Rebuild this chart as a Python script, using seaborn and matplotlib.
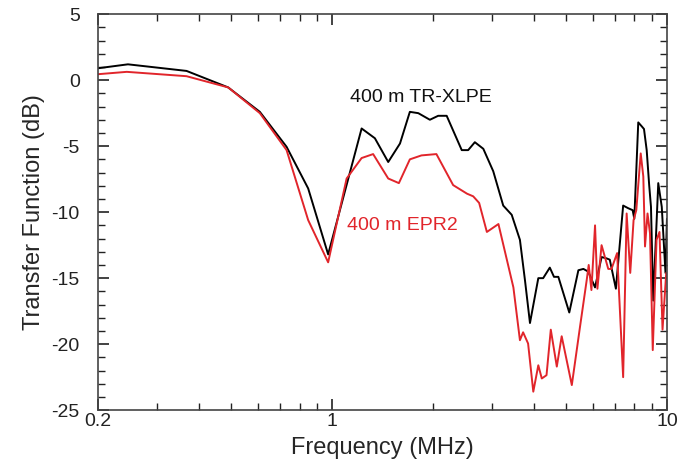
import numpy as np
import pandas as pd
import matplotlib
matplotlib.use('Agg')
import matplotlib.pyplot as plt
from matplotlib.ticker import FixedLocator, NullFormatter, MultipleLocator
import seaborn as sns

# Frequency (MHz) and transfer function (dB)
xlpe_freq = [0.2, 0.246, 0.368, 0.49, 0.609, 0.732, 0.849, 0.974, 1.226, 1.343, 1.472,
             1.596, 1.708, 1.81, 1.96, 2.075, 2.2, 2.44, 2.55, 2.67, 2.83, 3.03, 3.245,
             3.44, 3.64, 3.77, 3.9, 4.13, 4.27, 4.47, 4.6, 4.74, 5.11, 5.44, 5.63, 5.82,
             6.1, 6.38, 6.6, 6.75, 7.04, 7.4, 7.66, 7.9, 7.99, 8.21, 8.41, 8.54, 8.7,
             8.85, 8.96, 9.1, 9.42, 9.65, 9.9, 10.0]
xlpe_db = [0.9, 1.2, 0.7, -0.55, -2.4, -5.05, -8.2, -13.2, -3.66, -4.4, -6.2,
           -4.8, -2.4, -2.5, -3.0, -2.7, -2.7, -5.3, -5.3, -4.7, -5.2, -6.9, -9.5,
           -10.2, -12.1, -15.2, -18.4, -15.0, -15.0, -14.2, -14.9, -14.9, -17.6, -14.4, -14.3, -14.5,
           -15.7, -13.4, -13.5, -13.6, -15.8, -9.5, -9.7, -9.85, -10.5, -3.2, -3.5, -3.7, -5.3,
           -7.95, -9.6, -16.7, -7.8, -9.6, -14.6, -10.5]

epr_freq = [0.2, 0.244, 0.368, 0.49, 0.609, 0.732, 0.849, 0.974, 1.106, 1.226, 1.327,
            1.472, 1.584, 1.708, 1.85, 2.05, 2.3, 2.53, 2.64, 2.75, 2.9, 3.14, 3.48,
            3.64, 3.72, 3.85, 3.99, 4.13, 4.23, 4.37, 4.5, 4.69, 4.85, 5.2, 5.5, 5.76,
            5.84, 5.95, 6.1, 6.2, 6.38, 6.68, 6.83, 7.1, 7.4, 7.58, 7.77, 7.95, 8.1,
            8.35, 8.5, 8.6, 8.75, 8.9, 9.07, 9.31, 9.5, 9.7, 9.95]
epr_db = [0.45, 0.63, 0.3, -0.55, -2.5, -5.3, -10.6, -13.8, -7.45, -5.9, -5.6,
          -7.45, -7.8, -6.0, -5.7, -5.6, -7.95, -8.6, -8.8, -9.3, -11.5, -10.9, -15.7,
          -19.7, -19.1, -19.95, -23.6, -21.6, -22.6, -22.35, -18.9, -21.7, -19.4, -23.1, -18.7, -15.15,
          -14.0, -15.9, -11.0, -15.8, -12.5, -14.3, -14.3, -13.1, -22.5, -10.1, -14.6, -10.6, -9.85,
          -5.55, -7.3, -12.6, -10.1, -11.6, -20.45, -12.1, -11.5, -18.9, -14.6]

sns.set_style("ticks")
plt.rcParams['font.family'] = ['Liberation Sans', 'DejaVu Sans']
plt.rcParams['axes.unicode_minus'] = False

fig, ax = plt.subplots(figsize=(6.89, 4.72), dpi=100)
fig.subplots_adjust(left=0.142, right=0.968, top=0.970, bottom=0.131)

sns.lineplot(x=xlpe_freq, y=xlpe_db, ax=ax, color='black', lw=1.4,
             sort=False, estimator=None)
sns.lineplot(x=epr_freq, y=epr_db, ax=ax, color='#e1252b', lw=1.4,
             sort=False, estimator=None)

ax.set_xscale('log')
ax.set_xlim(0.2, 10)
ax.set_ylim(-25, 5)

ax.xaxis.set_major_locator(FixedLocator([0.2, 1, 10]))
ax.set_xticklabels(['0.2', '1', '10'])
minor_x = [0.3, 0.4, 0.5, 0.6, 0.7, 0.8, 0.9, 2, 3, 4, 5, 6, 7, 8, 9]
ax.xaxis.set_minor_locator(FixedLocator(minor_x))
ax.xaxis.set_minor_formatter(NullFormatter())
ax.yaxis.set_major_locator(MultipleLocator(5))
ax.yaxis.set_minor_locator(MultipleLocator(1))

ax.tick_params(which='both', direction='in', top=True, right=True,
               labelsize=14, colors='#222222')
ax.tick_params(axis='x', pad=2)
ax.tick_params(axis='y', pad=13)
ax.tick_params(which='major', length=8, width=1.2)
ax.tick_params(which='minor', length=5, width=1.0)
for s in ax.spines.values():
    s.set_linewidth(1.2)
    s.set_color('#444444')

ax.set_xlabel('Frequency (MHz)', fontsize=17, labelpad=5)
ax.set_ylabel('Transfer Function (dB)', fontsize=17, labelpad=5)

ax.text(1.13, -1.3, '400 m TR-XLPE', fontsize=14, color='#111111', va='center')
ax.text(1.11, -11.0, '400 m EPR2', fontsize=14, color='#e1252b', va='center')

plt.savefig('out.png', dpi=100)
